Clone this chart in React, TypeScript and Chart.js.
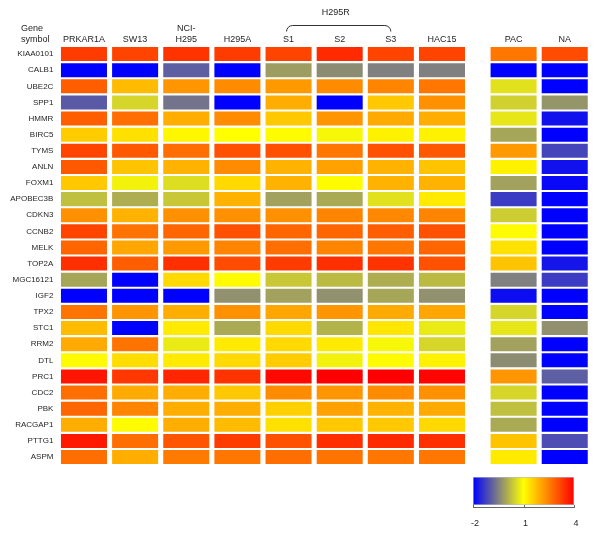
import { useEffect, useRef } from "react";
import { Chart, registerables } from "chart.js";
Chart.register(...registerables);

const genes = [
  "KIAA0101", "CALB1", "UBE2C", "SPP1", "HMMR", "BIRC5", "TYMS", "ANLN", "FOXM1",
  "APOBEC3B", "CDKN3", "CCNB2", "MELK", "TOP2A", "MGC16121", "IGF2", "TPX2", "STC1",
  "RRM2", "DTL", "PRC1", "CDC2", "PBK", "RACGAP1", "PTTG1", "ASPM",
];

const columns = ["PRKAR1A", "SW13", "NCI-H295", "H295A", "S1", "S2", "S3", "HAC15", "PAC", "NA"];
const columnHeaders: string[][] = [
  ["PRKAR1A"], ["SW13"], ["NCI-", "H295"], ["H295A"], ["S1"], ["S2"], ["S3"], ["HAC15"], ["PAC"], ["NA"],
];
const groupLabel = "H295R";
const groupColumns = ["S1", "S2", "S3"];
const gapAfterColumn = "HAC15";
const colorbarTicks = [-2, 1, 4];

const PRKAR1A = [3.3, -2, 2.9, -0.95, 2.9, 1.6, 3.2, 2.95, 1.65, 0.25, 2.3, 3.2, 2.8, 3.45, -0.05, -2, 2.65, 1.8, 2.0, 1.05, 3.75, 2.7, 2.8, 1.95, 3.7, 2.7];
const SW13 = [3.2, -2, 1.8, 0.5, 2.7, 1.35, 2.95, 1.7, 0.85, 0.05, 1.9, 2.65, 2.05, 2.9, -2, -2, 2.25, -2, 2.65, 1.4, 3.35, 2.0, 2.45, 1.05, 2.7, 1.95];
const NCI_H295 = [3.4, -0.9, 2.25, -0.65, 1.95, 1.1, 2.7, 1.9, 0.6, 0.35, 2.3, 2.8, 2.2, 3.45, 1.45, -2, 1.95, 1.25, 0.75, 1.25, 3.55, 1.95, 1.95, 1.95, 3.0, 2.55];
const H295A = [3.3, -2, 2.35, -2, 2.35, 1.0, 3.05, 2.35, 1.45, 1.9, 2.3, 3.05, 2.45, 3.1, 1.05, -0.3, 2.3, 0, 1.25, 1.45, 3.4, 1.65, 1.95, 1.8, 3.3, 2.6];
const S1 = [3.2, -0.15, 2.2, 1.95, 1.65, 1.05, 3.05, 1.9, 1.9, -0.1, 2.3, 2.8, 2.7, 3.3, 0.35, -0.1, 2.05, 1.45, 1.45, 1.6, 3.9, 2.35, 1.55, 1.35, 3.05, 2.7];
const S2 = [3.5, -0.35, 2.35, -2, 2.25, 0.9, 2.6, 2.1, 1.05, 0, 2.45, 2.8, 2.45, 3.45, 0.2, -0.3, 2.25, 0.1, 1.25, 0.85, 4, 2.25, 2.1, 1.65, 3.45, 2.65];
const S3 = [3.2, -0.5, 2.45, 1.65, 2.0, 1.15, 3.05, 1.9, 1.9, 0.65, 2.4, 2.9, 2.6, 3.4, 0.05, -0.05, 2.0, 1.3, 0.9, 1.05, 4, 2.35, 1.9, 1.65, 3.5, 2.6];
const HAC15 = [3.2, -0.5, 2.6, 2.3, 1.95, 1.15, 2.95, 1.7, 1.9, 1.25, 2.45, 3.05, 2.8, 3.05, 0.2, -0.3, 2.05, 0.75, 0.5, 1.15, 3.95, 2.3, 2.0, 1.45, 3.45, 2.6];
const PAC = [2.6, -2, 0.65, 0.45, 0.7, -0.05, 2.2, 1.15, -0.1, -1.3, 0.4, 1.05, 1.35, 1.7, -0.5, -1.85, 0.5, 0.7, -0.1, -0.35, 2.25, 0.5, 0.25, 0, 1.7, 1.25];
const NA = [3.1, -2, -2, -0.25, -1.8, -2, -1.2, -1.8, -1.9, -2, -2, -2, -2, -1.75, -1.3, -2, -2, -0.3, -2, -2, -0.9, -2, -2, -2, -1.1, -2];

const columnValues = [PRKAR1A, SW13, NCI_H295, H295A, S1, S2, S3, HAC15, PAC, NA];

const VMIN = -2;
const VMID = 1;
const VMAX = 4;

function heatColor(v: number): string {
  let r: number, g: number, b: number;
  if (v <= VMID) {
    const s = Math.max(0, Math.min(1, (v - VMIN) / (VMID - VMIN)));
    r = 255 * s; g = 255 * s; b = 255 * (1 - s);
  } else {
    const s = Math.max(0, Math.min(1, (v - VMID) / (VMAX - VMID)));
    r = 255; g = 255 * (1 - s); b = 0;
  }
  return `rgb(${Math.round(r)},${Math.round(g)},${Math.round(b)})`;
}

const gapIndex = columns.indexOf(gapAfterColumn);
const colPos = columns.map((_, i) => i + (i > gapIndex ? 0.4 : 0));
const HALF = 0.45;
const TEXT = "#1f1f1f";
const FONT = "'Liberation Sans', Arial, sans-serif";

const overlayPlugin = {
  id: "overlay",
  afterDraw(chart: any) {
    const ctx = chart.ctx as CanvasRenderingContext2D;
    const xs = chart.scales.x;
    ctx.save();
    ctx.fillStyle = TEXT;
    ctx.textBaseline = "middle";
    ctx.font = `9px ${FONT}`;
    // Gene symbol header
    ctx.textAlign = "left";
    ctx.fillText("Gene", 21, 29);
    ctx.fillText("symbol", 21, 40);
    // H295R bracket
    const x1 = xs.getPixelForValue(colPos[columns.indexOf(groupColumns[0])]) - 2;
    const x2 = xs.getPixelForValue(colPos[columns.indexOf(groupColumns[groupColumns.length - 1])]);
    const yTop = 25.5, yBot = 31.5, rad = 6;
    ctx.strokeStyle = "#333";
    ctx.lineWidth = 1;
    ctx.beginPath();
    ctx.moveTo(x1, yBot);
    ctx.arcTo(x1, yTop, x1 + rad, yTop, rad);
    ctx.lineTo(x2 - rad, yTop);
    ctx.arcTo(x2, yTop, x2, yBot, rad);
    ctx.lineTo(x2, yBot);
    ctx.stroke();
    ctx.textAlign = "center";
    ctx.fillText(groupLabel, (x1 + x2) / 2 - 3, 13);
    // Colour bar
    const cbL = 473, cbR = 574, cbT = 477, cbB = 505;
    const grad = ctx.createLinearGradient(cbL, 0, cbR, 0);
    const steps = 24;
    for (let i = 0; i <= steps; i++) {
      const v = VMIN + ((VMAX - VMIN) * i) / steps;
      grad.addColorStop(i / steps, heatColor(v));
    }
    ctx.fillStyle = grad;
    ctx.fillRect(cbL, cbT, cbR - cbL, cbB - cbT);
    ctx.strokeStyle = "#b8b8d8";
    ctx.lineWidth = 0.6;
    ctx.strokeRect(cbL + 0.3, cbT + 0.3, cbR - cbL - 0.6, cbB - cbT - 0.6);
    ctx.strokeStyle = "#666";
    ctx.lineWidth = 1;
    ctx.beginPath();
    ctx.moveTo(cbL, 507.5);
    ctx.lineTo(cbR, 507.5);
    colorbarTicks.forEach((t) => {
      const px = cbL + ((t - VMIN) / (VMAX - VMIN)) * (cbR - cbL);
      ctx.moveTo(Math.round(px) + 0.5, 505);
      ctx.lineTo(Math.round(px) + 0.5, 508);
    });
    ctx.stroke();
    ctx.fillStyle = TEXT;
    ctx.font = `9px ${FONT}`;
    colorbarTicks.forEach((t) => {
      const px = cbL + ((t - VMIN) / (VMAX - VMIN)) * (cbR - cbL);
      ctx.fillText(String(t), px + 2, 524);
    });
    ctx.restore();
  },
};

export default function App() {
  const ref = useRef<HTMLCanvasElement | null>(null);
  useEffect(() => {
    if (!ref.current) return;
    const datasets = columns.map((c, ci) => ({
      label: c,
      data: genes.map(() => [colPos[ci] - HALF, colPos[ci] + HALF]),
      backgroundColor: columnValues[ci].map((v) => heatColor(v)),
      borderWidth: 0,
      grouped: false,
      categoryPercentage: 1,
      barPercentage: 0.87,
    }));
    const chart = new Chart(ref.current, {
      type: "bar",
      data: { labels: genes, datasets: datasets as any },
      options: {
        indexAxis: "y",
        animation: false,
        responsive: true,
        maintainAspectRatio: false,
        layout: { padding: { left: 0, right: 10.7, top: 0, bottom: 72.9 } },
        plugins: { legend: { display: false }, tooltip: { enabled: false } },
        scales: {
          x: {
            type: "linear",
            position: "top",
            min: -0.5,
            max: 9.9,
            grid: { display: false, drawTicks: false },
            border: { display: false },
            afterFit: (s: any) => { s.height = 46; },
            afterBuildTicks: (s: any) => { s.ticks = colPos.map((v) => ({ value: v })); },
            ticks: {
              padding: 1,
              color: TEXT,
              font: { size: 9, family: FONT, lineHeight: 1.2 },
              maxRotation: 0,
              autoSkip: false,
              callback: (value: any) => {
                const i = colPos.findIndex((p) => Math.abs(p - Number(value)) < 1e-6);
                return i >= 0 ? columnHeaders[i] : "";
              },
            },
          },
          y: {
            type: "category",
            grid: { display: false, drawTicks: false },
            border: { display: false },
            afterFit: (s: any) => { s.width = 58.4; },
            ticks: {
              padding: 5,
              color: TEXT,
              font: { size: 8, family: FONT },
              autoSkip: false,
            },
          },
        },
      },
      plugins: [overlayPlugin],
    });
    return () => chart.destroy();
  }, []);
  return (
    <div style={{ position: "absolute", left: 0, top: 0, width: 601, height: 538, background: "#fff" }}>
      <canvas ref={ref} />
    </div>
  );
}
